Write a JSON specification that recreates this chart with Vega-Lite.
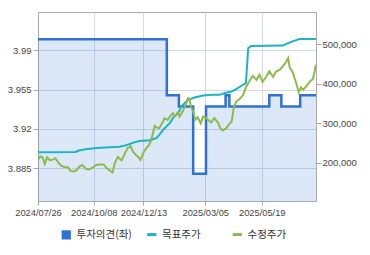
{
  "$schema": "https://vega.github.io/schema/vega-lite/v6.json",
  "width": 278,
  "height": 189,
  "autosize": "none",
  "padding": {"left": 38, "top": 12, "right": 54, "bottom": 54},
  "background": "white",
  "config": {
    "view": {"stroke": "#a9a9a9", "strokeWidth": 1},
    "font": "Liberation Sans"
  },
  "datasets": {
    "opinion": [
      {"date": "2024-07-26", "opinion": 4.0},
      {"date": "2025-01-13", "opinion": 3.95},
      {"date": "2025-01-29", "opinion": 3.94},
      {"date": "2025-02-17", "opinion": 3.88},
      {"date": "2025-03-06", "opinion": 3.94},
      {"date": "2025-04-01", "opinion": 3.95},
      {"date": "2025-04-06", "opinion": 3.94},
      {"date": "2025-05-29", "opinion": 3.95},
      {"date": "2025-06-14", "opinion": 3.94},
      {"date": "2025-07-09", "opinion": 3.95},
      {"date": "2025-07-30", "opinion": 3.95}
    ],
    "prices": [
      {"date": "2024-07-26", "series": "목표주가", "price": 226000},
      {"date": "2024-09-14", "series": "목표주가", "price": 227000},
      {"date": "2024-09-17", "series": "목표주가", "price": 230000},
      {"date": "2024-09-27", "series": "목표주가", "price": 234000},
      {"date": "2024-10-12", "series": "목표주가", "price": 237000},
      {"date": "2024-10-29", "series": "목표주가", "price": 239000},
      {"date": "2024-11-11", "series": "목표주가", "price": 240500},
      {"date": "2024-11-18", "series": "목표주가", "price": 243000},
      {"date": "2024-11-25", "series": "목표주가", "price": 247000},
      {"date": "2024-11-29", "series": "목표주가", "price": 250500},
      {"date": "2024-12-08", "series": "목표주가", "price": 255000},
      {"date": "2024-12-21", "series": "목표주가", "price": 256500},
      {"date": "2024-12-30", "series": "목표주가", "price": 262000},
      {"date": "2025-01-03", "series": "목표주가", "price": 270000},
      {"date": "2025-01-10", "series": "목표주가", "price": 287000},
      {"date": "2025-01-17", "series": "목표주가", "price": 300000},
      {"date": "2025-01-21", "series": "목표주가", "price": 312500},
      {"date": "2025-01-26", "series": "목표주가", "price": 322500},
      {"date": "2025-01-30", "series": "목표주가", "price": 331000},
      {"date": "2025-02-01", "series": "목표주가", "price": 342000},
      {"date": "2025-02-10", "series": "목표주가", "price": 359000},
      {"date": "2025-02-19", "series": "목표주가", "price": 364700},
      {"date": "2025-03-02", "series": "목표주가", "price": 369800},
      {"date": "2025-03-15", "series": "목표주가", "price": 371500},
      {"date": "2025-03-24", "series": "목표주가", "price": 371500},
      {"date": "2025-03-31", "series": "목표주가", "price": 376000},
      {"date": "2025-04-09", "series": "목표주가", "price": 380000},
      {"date": "2025-04-15", "series": "목표주가", "price": 386000},
      {"date": "2025-04-24", "series": "목표주가", "price": 397000},
      {"date": "2025-04-28", "series": "목표주가", "price": 401000},
      {"date": "2025-05-01", "series": "목표주가", "price": 490000},
      {"date": "2025-05-05", "series": "목표주가", "price": 495000},
      {"date": "2025-06-16", "series": "목표주가", "price": 496000},
      {"date": "2025-06-18", "series": "목표주가", "price": 498000},
      {"date": "2025-06-25", "series": "목표주가", "price": 504000},
      {"date": "2025-06-29", "series": "목표주가", "price": 506600},
      {"date": "2025-07-08", "series": "목표주가", "price": 512700},
      {"date": "2025-07-30", "series": "목표주가", "price": 512700},
      {"date": "2024-07-26", "series": "수정주가", "price": 206900},
      {"date": "2024-07-29", "series": "수정주가", "price": 215700},
      {"date": "2024-08-01", "series": "수정주가", "price": 213700},
      {"date": "2024-08-04", "series": "수정주가", "price": 196700},
      {"date": "2024-08-07", "series": "수정주가", "price": 213200},
      {"date": "2024-08-11", "series": "수정주가", "price": 205600},
      {"date": "2024-08-15", "series": "수정주가", "price": 208100},
      {"date": "2024-08-18", "series": "수정주가", "price": 211200},
      {"date": "2024-08-22", "series": "수정주가", "price": 200000},
      {"date": "2024-08-26", "series": "수정주가", "price": 191700},
      {"date": "2024-08-30", "series": "수정주가", "price": 189100},
      {"date": "2024-09-04", "series": "수정주가", "price": 187900},
      {"date": "2024-09-07", "series": "수정주가", "price": 179000},
      {"date": "2024-09-11", "series": "수정주가", "price": 177700},
      {"date": "2024-09-15", "series": "수정주가", "price": 180300},
      {"date": "2024-09-19", "series": "수정주가", "price": 189900},
      {"date": "2024-09-23", "series": "수정주가", "price": 194200},
      {"date": "2024-09-27", "series": "수정주가", "price": 185300},
      {"date": "2024-09-30", "series": "수정주가", "price": 182800},
      {"date": "2024-10-03", "series": "수정주가", "price": 184000},
      {"date": "2024-10-07", "series": "수정주가", "price": 187900},
      {"date": "2024-10-11", "series": "수정주가", "price": 194200},
      {"date": "2024-10-16", "series": "수정주가", "price": 195500},
      {"date": "2024-10-21", "series": "수정주가", "price": 195500},
      {"date": "2024-10-25", "series": "수정주가", "price": 186600},
      {"date": "2024-10-30", "series": "수정주가", "price": 179000},
      {"date": "2024-11-02", "series": "수정주가", "price": 175200},
      {"date": "2024-11-05", "series": "수정주가", "price": 199300},
      {"date": "2024-11-09", "series": "수정주가", "price": 214500},
      {"date": "2024-11-14", "series": "수정주가", "price": 205600},
      {"date": "2024-11-18", "series": "수정주가", "price": 222100},
      {"date": "2024-11-22", "series": "수정주가", "price": 237300},
      {"date": "2024-11-26", "series": "수정주가", "price": 241100},
      {"date": "2024-11-29", "series": "수정주가", "price": 227900},
      {"date": "2024-12-03", "series": "수정주가", "price": 219500},
      {"date": "2024-12-06", "series": "수정주가", "price": 214500},
      {"date": "2024-12-09", "series": "수정주가", "price": 206900},
      {"date": "2024-12-13", "series": "수정주가", "price": 225900},
      {"date": "2024-12-17", "series": "수정주가", "price": 237300},
      {"date": "2024-12-20", "series": "수정주가", "price": 243600},
      {"date": "2024-12-23", "series": "수정주가", "price": 255000},
      {"date": "2024-12-28", "series": "수정주가", "price": 293000},
      {"date": "2024-12-30", "series": "수정주가", "price": 289200},
      {"date": "2025-01-03", "series": "수정주가", "price": 287200},
      {"date": "2025-01-08", "series": "수정주가", "price": 303900},
      {"date": "2025-01-10", "series": "수정주가", "price": 312500},
      {"date": "2025-01-14", "series": "수정주가", "price": 308200},
      {"date": "2025-01-17", "series": "수정주가", "price": 316600},
      {"date": "2025-01-21", "series": "수정주가", "price": 325200},
      {"date": "2025-01-23", "series": "수정주가", "price": 316600},
      {"date": "2025-01-26", "series": "수정주가", "price": 320900},
      {"date": "2025-01-28", "series": "수정주가", "price": 327200},
      {"date": "2025-01-30", "series": "수정주가", "price": 316600},
      {"date": "2025-02-03", "series": "수정주가", "price": 329200},
      {"date": "2025-02-08", "series": "수정주가", "price": 351300},
      {"date": "2025-02-10", "series": "수정주가", "price": 363200},
      {"date": "2025-02-12", "series": "수정주가", "price": 361400},
      {"date": "2025-02-14", "series": "수정주가", "price": 341900},
      {"date": "2025-02-17", "series": "수정주가", "price": 328500},
      {"date": "2025-02-20", "series": "수정주가", "price": 308200},
      {"date": "2025-02-23", "series": "수정주가", "price": 314500},
      {"date": "2025-02-27", "series": "수정주가", "price": 299300},
      {"date": "2025-03-02", "series": "수정주가", "price": 316600},
      {"date": "2025-03-06", "series": "수정주가", "price": 313300},
      {"date": "2025-03-11", "series": "수정주가", "price": 304400},
      {"date": "2025-03-13", "series": "수정주가", "price": 301900},
      {"date": "2025-03-17", "series": "수정주가", "price": 312500},
      {"date": "2025-03-22", "series": "수정주가", "price": 300600},
      {"date": "2025-03-25", "series": "수정주가", "price": 287200},
      {"date": "2025-03-28", "series": "수정주가", "price": 281600},
      {"date": "2025-04-02", "series": "수정주가", "price": 287200},
      {"date": "2025-04-05", "series": "수정주가", "price": 295500},
      {"date": "2025-04-09", "series": "수정주가", "price": 303900},
      {"date": "2025-04-12", "series": "수정주가", "price": 339900},
      {"date": "2025-04-15", "series": "수정주가", "price": 354600},
      {"date": "2025-04-20", "series": "수정주가", "price": 361400},
      {"date": "2025-04-24", "series": "수정주가", "price": 370300},
      {"date": "2025-04-28", "series": "수정주가", "price": 390600},
      {"date": "2025-05-03", "series": "수정주가", "price": 407000},
      {"date": "2025-05-07", "series": "수정주가", "price": 419700},
      {"date": "2025-05-12", "series": "수정주가", "price": 409600},
      {"date": "2025-05-16", "series": "수정주가", "price": 422200},
      {"date": "2025-05-20", "series": "수정주가", "price": 404500},
      {"date": "2025-05-25", "series": "수정주가", "price": 417200},
      {"date": "2025-05-29", "series": "수정주가", "price": 431100},
      {"date": "2025-06-03", "series": "수정주가", "price": 417200},
      {"date": "2025-06-07", "series": "수정주가", "price": 430600},
      {"date": "2025-06-12", "series": "수정주가", "price": 434900},
      {"date": "2025-06-16", "series": "수정주가", "price": 443800},
      {"date": "2025-06-20", "series": "수정주가", "price": 453900},
      {"date": "2025-06-23", "series": "수정주가", "price": 464500},
      {"date": "2025-06-25", "series": "수정주가", "price": 441300},
      {"date": "2025-06-29", "series": "수정주가", "price": 428600},
      {"date": "2025-07-04", "series": "수정주가", "price": 399400},
      {"date": "2025-07-07", "series": "수정주가", "price": 377900},
      {"date": "2025-07-10", "series": "수정주가", "price": 390600},
      {"date": "2025-07-13", "series": "수정주가", "price": 384200},
      {"date": "2025-07-17", "series": "수정주가", "price": 393100},
      {"date": "2025-07-21", "series": "수정주가", "price": 403200},
      {"date": "2025-07-26", "series": "수정주가", "price": 412100},
      {"date": "2025-07-28", "series": "수정주가", "price": 429800},
      {"date": "2025-07-30", "series": "수정주가", "price": 447600}
    ]
  },
  "encoding": {
    "x": {
      "field": "date",
      "type": "temporal",
      "scale": {
        "type": "utc",
        "domain": [
          {"year": 2024, "month": 7, "date": 26, "utc": true},
          {"year": 2025, "month": 7, "date": 30, "utc": true}
        ]
      },
      "axis": {
        "title": null,
        "format": "%Y/%m/%d",
        "values": [
          {"year": 2024, "month": 7, "date": 26, "utc": true},
          {"year": 2024, "month": 10, "date": 8, "utc": true},
          {"year": 2024, "month": 12, "date": 13, "utc": true},
          {"year": 2025, "month": 3, "date": 5, "utc": true},
          {"year": 2025, "month": 5, "date": 19, "utc": true}
        ],
        "labelOverlap": false,
        "labelFlush": false,
        "labelFont": "Liberation Sans",
        "labelFontSize": 9.3,
        "labelColor": "#444444",
        "labelPadding": 3,
        "tickSize": 4,
        "tickColor": "#a9a9a9",
        "domainColor": "#a9a9a9",
        "grid": true,
        "gridColor": "#d3dae5",
        "gridWidth": 1
      }
    }
  },
  "layer": [
    {
      "data": {"name": "opinion"},
      "encoding": {
        "y": {
          "field": "opinion",
          "type": "quantitative",
          "scale": {"domain": [3.8558, 4.0243], "zero": false, "nice": false},
          "axis": {
            "orient": "left",
            "title": null,
            "values": [3.885, 3.92, 3.955, 3.99],
            "labelExpr": "'' + datum.value",
            "labelFont": "Liberation Sans",
            "labelFontSize": 9.5,
            "labelColor": "#444444",
            "labelPadding": 2,
            "tickSize": 5,
            "tickColor": "#a9a9a9",
            "domainColor": "#a9a9a9",
            "grid": true,
            "gridColor": "#d3dae5"
          }
        }
      },
      "layer": [
        {
          "mark": {"type": "area", "interpolate": "step-after", "color": "#2f6fd0", "opacity": 0.17, "clip": true}
        },
        {
          "mark": {"type": "line", "interpolate": "step-after", "strokeWidth": 2.5, "clip": true},
          "encoding": {
            "color": {
              "datum": "투자의견(좌)",
              "scale": {"domain": ["투자의견(좌)", "목표주가", "수정주가"], "range": ["#2f72d2", "#1ab3c7", "#8dba4c"]}
            }
          }
        }
      ]
    },
    {
      "data": {"name": "prices"},
      "encoding": {
        "y": {
          "field": "price",
          "type": "quantitative",
          "scale": {"domain": [103000, 581000], "zero": false, "nice": false},
          "axis": {
            "orient": "right",
            "title": null,
            "values": [200000, 300000, 400000, 500000],
            "format": ",d",
            "labelFont": "Liberation Sans",
            "labelFontSize": 9.5,
            "labelColor": "#444444",
            "labelPadding": 1,
            "tickSize": 5,
            "tickColor": "#a9a9a9",
            "domainColor": "#a9a9a9",
            "grid": false
          }
        }
      },
      "layer": [
        {
          "mark": {"type": "line", "strokeWidth": 2, "clip": true},
          "encoding": {
            "color": {
              "field": "series",
              "type": "nominal",
              "scale": {"domain": ["투자의견(좌)", "목표주가", "수정주가"], "range": ["#2f72d2", "#1ab3c7", "#8dba4c"]},
              "legend": {
                "orient": "none",
                "legendX": 23,
                "legendY": 217,
                "direction": "horizontal",
                "title": null,
                "padding": 0,
                "labelFont": "Noto Sans CJK KR",
                "labelFontSize": 10.5,
                "labelColor": "#333333",
                "labelOffset": 5,
                "symbolSize": 85,
                "columnPadding": 8.5,
                "gridAlign": "all",
                "encode": {
                  "symbols": {
                    "update": {
                      "shape": {"signal": "datum.label === '투자의견(좌)' ? 'square' : 'stroke'"},
                      "fill": {"signal": "scale('color', datum.value)"},
                      "stroke": {"signal": "scale('color', datum.value)"},
                      "strokeWidth": {"signal": "datum.label === '투자의견(좌)' ? 0 : 3"},
                      "opacity": {"value": 1}
                    }
                  }
                }
              }
            }
          }
        }
      ]
    }
  ],
  "resolve": {"scale": {"y": "independent"}}
}
